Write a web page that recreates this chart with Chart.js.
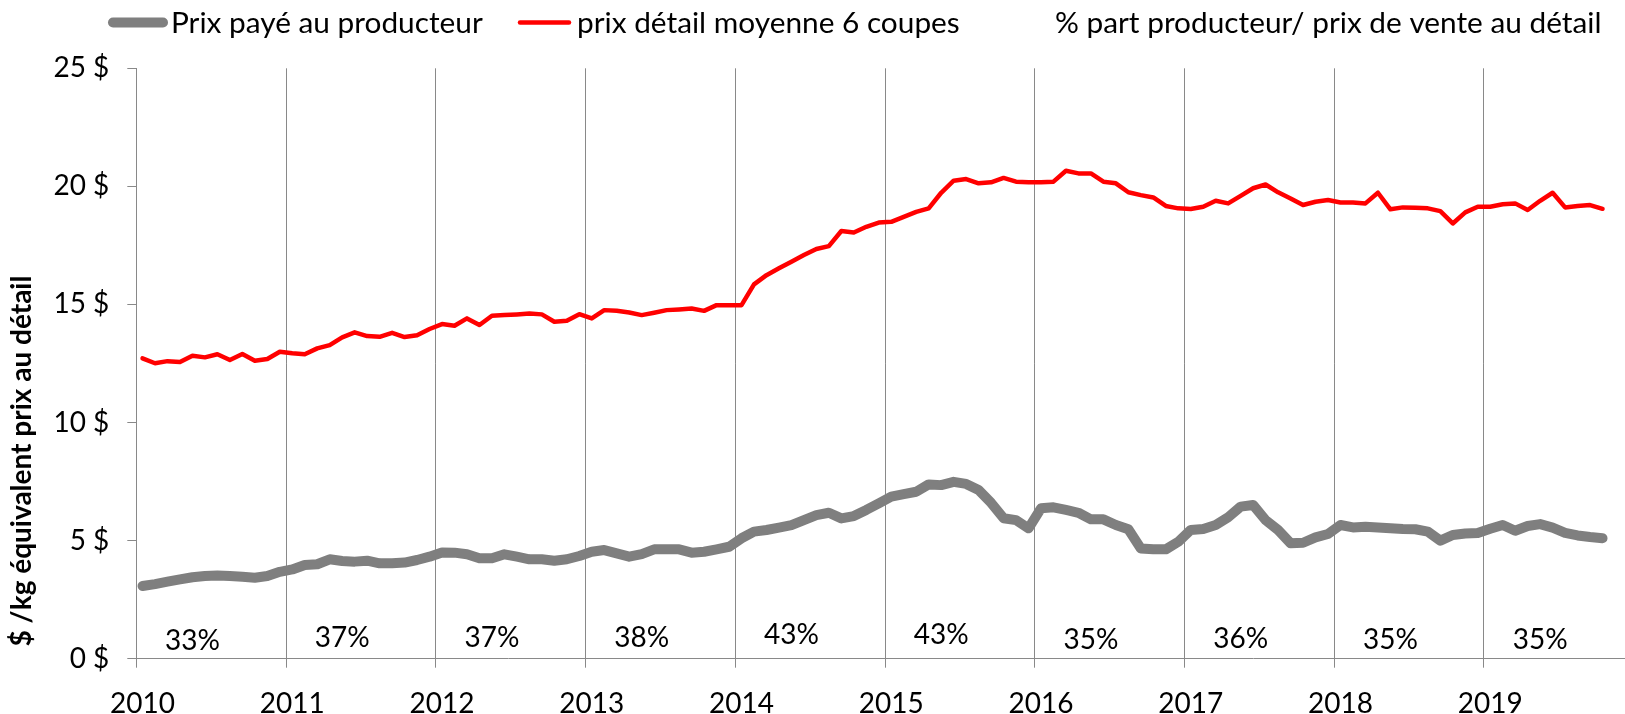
<!DOCTYPE html>
<html lang="fr">
<head>
<meta charset="UTF-8">
<title>Prix payé au producteur et prix de détail</title>
<script src="https://cdn.jsdelivr.net/npm/chart.js"></script>
<style>
  html, body { margin: 0; padding: 0; background: #fff; }
  #wrap { width: 1625px; height: 714px; }
</style>
</head>
<body>
<div id="wrap"><canvas id="chart" width="1625" height="714"></canvas></div>
<script>
// années (une ligne verticale par année), séries mensuelles à partir de janvier 2010
const years = [2010, 2011, 2012, 2013, 2014, 2015, 2016, 2017, 2018, 2019];

const prixProducteur = [
  3.08, 3.16, 3.26, 3.36, 3.45, 3.50, 3.52, 3.50, 3.47, 3.43, 3.50, 3.68,
  3.78, 3.97, 4.00, 4.21, 4.14, 4.11, 4.15, 4.04, 4.04, 4.07, 4.18, 4.32,
  4.50, 4.49, 4.42, 4.25, 4.25, 4.42, 4.32, 4.21, 4.21, 4.15, 4.21, 4.35,
  4.53, 4.60, 4.46, 4.32, 4.43, 4.63, 4.63, 4.63, 4.49, 4.53, 4.63, 4.74,
  5.10, 5.38, 5.45, 5.55, 5.66, 5.87, 6.08, 6.18, 5.94, 6.04, 6.30, 6.58,
  6.86, 6.97, 7.07, 7.38, 7.35, 7.49, 7.40, 7.14, 6.60, 5.95, 5.87, 5.52,
  6.37, 6.41, 6.30, 6.18, 5.90, 5.90, 5.66, 5.48, 4.67, 4.63, 4.63, 4.95,
  5.45, 5.49, 5.66, 5.99, 6.44, 6.51, 5.87, 5.45, 4.89, 4.91, 5.14, 5.28,
  5.66, 5.56, 5.59, 5.56, 5.52, 5.49, 5.48, 5.38, 5.00, 5.24, 5.30, 5.32,
  5.50, 5.66, 5.42, 5.62, 5.70, 5.55, 5.33, 5.22, 5.15, 5.10
];

const prixDetail = [
  12.72, 12.51, 12.60, 12.56, 12.83, 12.76, 12.89, 12.65, 12.90, 12.62, 12.69, 13.00,
  12.93, 12.89, 13.14, 13.28, 13.61, 13.82, 13.66, 13.63, 13.80, 13.62, 13.70, 13.96,
  14.17, 14.10, 14.41, 14.13, 14.52, 14.55, 14.58, 14.62, 14.58, 14.27, 14.31, 14.59,
  14.41, 14.76, 14.73, 14.66, 14.55, 14.65, 14.76, 14.79, 14.83, 14.73, 14.97, 14.97,
  14.97, 15.85, 16.24, 16.53, 16.81, 17.09, 17.35, 17.47, 18.11, 18.05, 18.29, 18.47,
  18.50, 18.71, 18.92, 19.07, 19.73, 20.24, 20.31, 20.13, 20.17, 20.36, 20.20, 20.17,
  20.17, 20.20, 20.66, 20.55, 20.55, 20.20, 20.13, 19.75, 19.63, 19.53, 19.17, 19.07,
  19.04, 19.14, 19.39, 19.28, 19.60, 19.92, 20.08, 19.75, 19.49, 19.21, 19.35, 19.42,
  19.32, 19.32, 19.28, 19.73, 19.03, 19.11, 19.10, 19.07, 18.95, 18.43, 18.90, 19.14,
  19.14, 19.24, 19.28, 19.00, 19.39, 19.73, 19.11, 19.17, 19.21, 19.05
];

// part du producteur dans le prix de détail, une valeur par année
const partProducteur = [33, 37, 37, 38, 43, 43, 35, 36, 35, 35];

const yTicks = [0, 5, 10, 15, 20, 25];

const FONT = 'Lato, "Open Sans", sans-serif';
const GRID = '#898989';

const legendTexts = [
  'Prix payé au producteur',
  'prix détail moyenne 6 coupes',
  '% part producteur/ prix de vente au détail'
];

// légende en haut, dessinée à la main pour garder les traits épais arrondis
const topLegend = {
  id: 'topLegend',
  afterDraw(chart) {
    const ctx = chart.ctx;
    const slots = [
      { x1: 113, x2: 163, tx: 171 },
      { x1: 520, x2: 569, tx: 577 },
      { x1: null, x2: null, tx: 1055 }
    ];
    ctx.save();
    chart.data.datasets.forEach((ds, i) => {
      const s = slots[i];
      if (s.x1 !== null) {
        ctx.strokeStyle = ds.borderColor;
        ctx.lineWidth = ds.borderWidth;
        ctx.lineCap = 'round';
        ctx.beginPath();
        ctx.moveTo(s.x1, 22.5);
        ctx.lineTo(s.x2, 22.5);
        ctx.stroke();
      }
      ctx.fillStyle = '#000';
      ctx.font = '29.8px ' + FONT;
      ctx.textAlign = 'left';
      ctx.textBaseline = 'alphabetic';
      ctx.fillText(ds.label, s.tx, 32.5);
    });
    ctx.restore();
  }
};

// titre vertical de l'axe des prix
const yTitle = {
  id: 'yTitle',
  afterDraw(chart) {
    const ctx = chart.ctx;
    ctx.save();
    ctx.translate(22, 461);
    ctx.rotate(-Math.PI / 2);
    ctx.font = 'bold 28px ' + FONT;
    ctx.fillStyle = '#000';
    ctx.textAlign = 'center';
    ctx.textBaseline = 'middle';
    ctx.fillText('$ /kg équivalent prix au détail', 0, 0);
    ctx.restore();
  }
};

// étiquettes de pourcentage posées sur les points de la 3e série
const pctLabels = {
  id: 'pctLabels',
  afterDatasetsDraw(chart) {
    const ctx = chart.ctx;
    const meta = chart.getDatasetMeta(2);
    ctx.save();
    ctx.font = '28px ' + FONT;
    ctx.fillStyle = '#000';
    ctx.textAlign = 'center';
    ctx.textBaseline = 'alphabetic';
    meta.data.forEach((pt, k) => {
      ctx.fillText(partProducteur[k] + '%', pt.x, pt.y + 10.5);
    });
    ctx.restore();
  }
};

const toPoints = arr => arr.map((v, i) => ({ x: i, y: v }));

new Chart(document.getElementById('chart'), {
  type: 'line',
  data: {
    datasets: [
      {
        label: legendTexts[0],
        data: toPoints(prixProducteur),
        borderColor: '#7f7f7f',
        borderWidth: 10,
        borderCapStyle: 'round',
        borderJoinStyle: 'round',
        pointRadius: 0,
        tension: 0,
        yAxisID: 'y'
      },
      {
        label: legendTexts[1],
        data: toPoints(prixDetail),
        borderColor: '#ff0000',
        borderWidth: 4.5,
        borderCapStyle: 'round',
        borderJoinStyle: 'round',
        pointRadius: 0,
        tension: 0,
        yAxisID: 'y'
      },
      {
        label: legendTexts[2],
        data: partProducteur.map((p, k) => ({ x: 12 * k + 4, y: p })),
        showLine: false,
        pointRadius: 0,
        borderColor: 'rgba(0,0,0,0)',
        yAxisID: 'y2'
      }
    ]
  },
  options: {
    responsive: false,
    animation: false,
    events: [],
    layout: { padding: { top: 68.3, right: 0, bottom: 0, left: 0 } },
    plugins: {
      legend: { display: false },
      tooltip: { enabled: false }
    },
    scales: {
      x: {
        type: 'linear',
        min: -0.5,
        max: 118.8,
        afterBuildTicks: s => { s.ticks = years.map((y, k) => ({ value: 12 * k - 0.5 })); },
        afterFit: s => { s.height = 55.3; },
        ticks: {
          autoSkip: false,
          maxRotation: 0,
          labelOffset: 6.24,
          padding: 19,
          color: '#000',
          font: { family: FONT, size: 28 },
          callback: (v, i) => String(years[i])
        },
        grid: { color: GRID, lineWidth: 1, tickLength: 9 },
        border: { color: GRID, width: 1 }
      },
      y: {
        min: 0,
        max: 25,
        afterBuildTicks: s => { s.ticks = yTicks.map(v => ({ value: v })); },
        afterFit: s => { s.width = 136.3; },
        ticks: {
          padding: 18,
          color: '#000',
          font: { family: FONT, size: 28 },
          callback: v => v + ' $'
        },
        grid: { drawOnChartArea: false, tickLength: 9, color: GRID },
        border: { color: GRID, width: 1 }
      },
      y2: {
        display: false,
        min: 0,
        max: 1000
      }
    }
  },
  plugins: [topLegend, yTitle, pctLabels]
});
</script>
</body>
</html>
